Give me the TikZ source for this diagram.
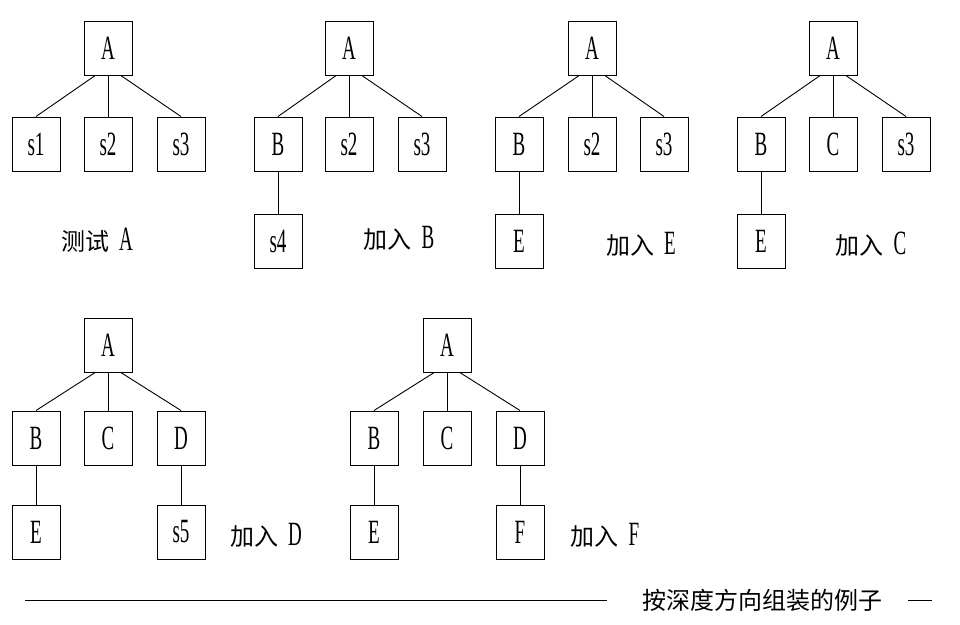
\documentclass[tikz,border=0pt]{standalone}
\usepackage{fontspec}
\newfontfamily\narrowfont[FakeStretch=0.56]{Liberation Serif}
\newfontfamily\cjkfont{Noto Sans CJK SC}
\usetikzlibrary{positioning}
\tikzset{
  box/.style={draw,line width=1pt,minimum width=48pt,minimum height=54pt,inner sep=0pt,font={\narrowfont\fontsize{34}{34}\selectfont}},
  edge/.style={line width=0.9pt},
  caption/.style={inner sep=0pt,font={\cjkfont\fontsize{24}{24}\selectfont}}
}
\newcommand{\ltr}[1]{\hspace{10pt}{\narrowfont\fontsize{34}{34}\selectfont #1}}

\begin{document}
\begin{tikzpicture}[x=1pt,y=-1pt]
  \useasboundingbox (0,0) rectangle (960,624);
  % test A
  \node[box] (t1a) at (108,48) {A};
  \node[box] (t1s1) at (36,144) {s1};
  \node[box] (t1s2) at (108,144) {s2};
  \node[box] (t1s3) at (181,144) {s3};
  \draw[edge] (t1a.245) -- (t1s1.north);
  \draw[edge] (t1a.south) -- (t1s2.north);
  \draw[edge] (t1a.295) -- (t1s3.north);
  \node[caption] (t1cap) at (97,240) {测试\ltr{A}};
  % add B
  \node[box] (t2a) at (349,48) {A};
  \node[box] (t2b) at (278,144) {B};
  \node[box] (t2s2) at (349,144) {s2};
  \node[box] (t2s3) at (422,144) {s3};
  \node[box] (t2s4) at (278,241) {s4};
  \draw[edge] (t2a.245) -- (t2b.north);
  \draw[edge] (t2a.south) -- (t2s2.north);
  \draw[edge] (t2a.295) -- (t2s3.north);
  \draw[edge] (t2b.south) -- (t2s4.north);
  \node[caption] (t2cap) at (399,238) {加入\ltr{B}};
  % add E
  \node[box] (t3a) at (592,48) {A};
  \node[box] (t3b) at (519,144) {B};
  \node[box] (t3s2) at (592,144) {s2};
  \node[box] (t3s3) at (664,144) {s3};
  \node[box] (t3e) at (519,241) {E};
  \draw[edge] (t3a.245) -- (t3b.north);
  \draw[edge] (t3a.south) -- (t3s2.north);
  \draw[edge] (t3a.295) -- (t3s3.north);
  \draw[edge] (t3b.south) -- (t3e.north);
  \node[caption] (t3cap) at (641,244) {加入\ltr{E}};
  % add C
  \node[box] (t4a) at (833,48) {A};
  \node[box] (t4b) at (761,144) {B};
  \node[box] (t4c) at (833,144) {C};
  \node[box] (t4s3) at (906,144) {s3};
  \node[box] (t4e) at (761,241) {E};
  \draw[edge] (t4a.245) -- (t4b.north);
  \draw[edge] (t4a.south) -- (t4c.north);
  \draw[edge] (t4a.295) -- (t4s3.north);
  \draw[edge] (t4b.south) -- (t4e.north);
  \node[caption] (t4cap) at (871,244) {加入\ltr{C}};
  % add D
  \node[box] (t5a) at (108,345) {A};
  \node[box] (t5b) at (36,438) {B};
  \node[box] (t5c) at (108,438) {C};
  \node[box] (t5d) at (181,438) {D};
  \node[box] (t5e) at (36,532) {E};
  \node[box] (t5s5) at (181,532) {s5};
  \draw[edge] (t5a.245) -- (t5b.north);
  \draw[edge] (t5a.south) -- (t5c.north);
  \draw[edge] (t5a.295) -- (t5d.north);
  \draw[edge] (t5b.south) -- (t5e.north);
  \draw[edge] (t5d.south) -- (t5s5.north);
  \node[caption] (t5cap) at (266,535) {加入\ltr{D}};
  % add F
  \node[box] (t6a) at (447,345) {A};
  \node[box] (t6b) at (374,438) {B};
  \node[box] (t6c) at (447,438) {C};
  \node[box] (t6d) at (520,438) {D};
  \node[box] (t6e) at (374,532) {E};
  \node[box] (t6f) at (520,532) {F};
  \draw[edge] (t6a.245) -- (t6b.north);
  \draw[edge] (t6a.south) -- (t6c.north);
  \draw[edge] (t6a.295) -- (t6d.north);
  \draw[edge] (t6b.south) -- (t6e.north);
  \draw[edge] (t6d.south) -- (t6f.north);
  \node[caption] (t6cap) at (605,535) {加入\ltr{F}};
  % title
  \node[caption] (title) at (762,600) {按深度方向组装的例子};
  \coordinate (lineL) at (25,600);
  \coordinate (lineR) at (932,600);
  \draw[edge] (lineL) -- ([xshift=-35pt]title.west);
  \draw[edge] ([xshift=26pt]title.east) -- (lineR);
\end{tikzpicture}
\end{document}
